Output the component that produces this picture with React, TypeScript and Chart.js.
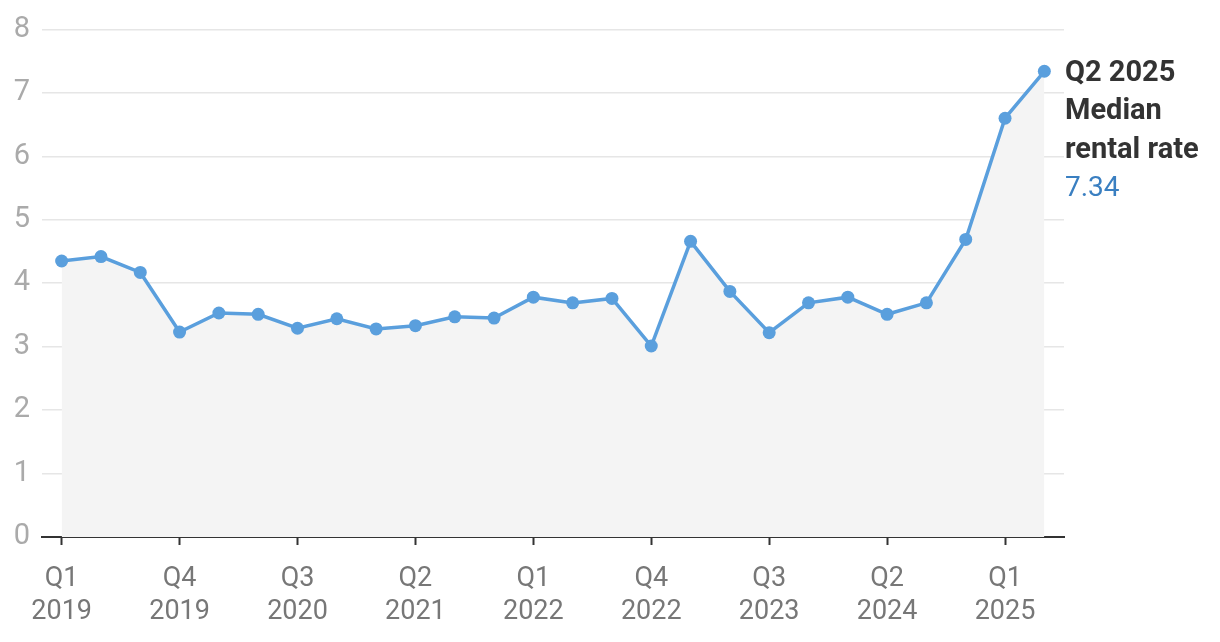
import React, { useEffect, useRef } from "react";
import { Chart, registerables } from "chart.js";

Chart.register(...registerables);

const quarters = [
  "Q1 2019", "Q2 2019", "Q3 2019", "Q4 2019",
  "Q1 2020", "Q2 2020", "Q3 2020", "Q4 2020",
  "Q1 2021", "Q2 2021", "Q3 2021", "Q4 2021",
  "Q1 2022", "Q2 2022", "Q3 2022", "Q4 2022",
  "Q1 2023", "Q2 2023", "Q3 2023", "Q4 2023",
  "Q1 2024", "Q2 2024", "Q3 2024", "Q4 2024",
  "Q1 2025", "Q2 2025",
];

const medianRent = [
  4.35, 4.42, 4.17, 3.23,
  3.53, 3.51, 3.29, 3.44,
  3.28, 3.33, 3.47, 3.45,
  3.78, 3.69, 3.76, 3.01,
  4.66, 3.87, 3.22, 3.69,
  3.78, 3.51, 3.69, 4.69,
  6.6, 7.34,
];

const xTickIndexes = [0, 3, 6, 9, 12, 15, 18, 21, 24];
const yTicks = [0, 1, 2, 3, 4, 5, 6, 7, 8];

const annotationLines = ["Q2 2025", "Median", "rental rate"];

const FONT = "Roboto, 'Noto Sans', sans-serif";
const LINE_COLOR = "#5a9fdd";

const endLabelPlugin = {
  id: "endLabel",
  afterDraw(chart: any) {
    const meta = chart.getDatasetMeta(0);
    const last = meta.data[meta.data.length - 1];
    if (!last) return;
    const ctx = chart.ctx;
    const x = chart.chartArea.right + 1;
    const y = last.y;
    ctx.save();
    ctx.textAlign = "left";
    ctx.textBaseline = "middle";
    ctx.fillStyle = "#333333";
    ctx.font = `bold 29px ${FONT}`;
    annotationLines.forEach((t, i) => {
      ctx.fillText(t, x, y + 2 + i * 38.5);
    });
    ctx.fillStyle = "#3a7fc1";
    ctx.font = `28px ${FONT}`;
    ctx.fillText(medianRent[medianRent.length - 1].toFixed(2), x, y + 2 + annotationLines.length * 38.5);
    ctx.restore();
  },
};

export default function App() {
  const canvasRef = useRef<HTMLCanvasElement | null>(null);

  useEffect(() => {
    if (!canvasRef.current) return;
    const chart = new Chart(canvasRef.current, {
      type: "line",
      data: {
        datasets: [
          {
            data: medianRent.map((v, i) => ({ x: i, y: v })),
            borderColor: LINE_COLOR,
            backgroundColor: "#f4f4f4",
            borderWidth: 3.5,
            pointRadius: 6.5,
            pointHoverRadius: 6.5,
            pointBackgroundColor: LINE_COLOR,
            pointBorderColor: LINE_COLOR,
            pointBorderWidth: 0,
            fill: "origin",
            tension: 0,
          },
        ],
      },
      options: {
        animation: false,
        responsive: false,
        maintainAspectRatio: false,
        layout: { padding: { top: 27, right: 156, left: 0, bottom: 0 } },
        plugins: {
          legend: { display: false },
          tooltip: { enabled: false },
        },
        scales: {
          x: {
            type: "linear",
            min: -0.5,
            max: quarters.length - 0.5,
            afterBuildTicks: (scale: any) => {
              scale.ticks = xTickIndexes.map((v) => ({ value: v }));
            },
            afterFit: (scale: any) => {
              scale.height = 105;
            },
            grid: {
              drawOnChartArea: false,
              drawTicks: true,
              tickLength: 8,
              tickColor: "#333333",
              tickWidth: 2,
            },
            border: { display: true, color: "#333333", width: 2 },
            ticks: {
              autoSkip: false,
              maxRotation: 0,
              padding: 17,
              color: "#777777",
              font: { family: FONT, size: 27, lineHeight: 1.25 },
              callback: (value: any) => {
                const q = quarters[Number(value)];
                return q ? q.split(" ") : "";
              },
            },
          },
          y: {
            min: 0,
            max: 8,
            afterBuildTicks: (scale: any) => {
              scale.ticks = yTicks.map((v) => ({ value: v }));
            },
            afterFit: (scale: any) => {
              scale.width = 42;
            },
            grid: {
              color: "#e6e6e6",
              lineWidth: 1.5,
              drawTicks: false,
            },
            border: { display: false },
            ticks: {
              padding: 12,
              color: "#aaaaaa",
              font: { family: FONT, size: 29 },
            },
          },
        },
      },
      plugins: [endLabelPlugin],
    } as any);
    return () => chart.destroy();
  }, []);

  return (
    <div style={{ position: "fixed", left: 0, top: 0, width: 1220, height: 642, background: "#fff" }}>
      <canvas ref={canvasRef} width={1220} height={642} style={{ display: "block", width: 1220, height: 642 }} />
    </div>
  );
}
